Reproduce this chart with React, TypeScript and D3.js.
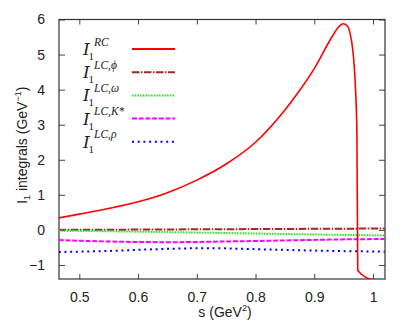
import React, { useEffect, useRef } from "react"
import * as d3 from "d3"

// red curve: I_1^RC
const rcS = [0.465, 0.5, 0.55, 0.6, 0.65, 0.7, 0.75, 0.8, 0.85, 0.87, 0.9, 0.93, 0.94, 0.949, 0.956, 0.961, 0.965, 0.9697, 0.9726, 0.974, 1.0]
const rcI = [0.34, 0.45, 0.61, 0.8, 1.06, 1.42, 1.88, 2.5, 3.42, 3.86, 4.6, 5.5, 5.76, 5.88, 5.82, 5.6, 5.2, 4.19, 2.77, -1.16, -1.43]

const phiS = [0.465, 0.75, 1.02]
const phiI = [0.0, 0.02, 0.04]

const omegaS = [0.465, 0.6, 0.75, 0.9, 1.02]
const omegaI = [-0.02, -0.05, -0.09, -0.13, -0.16]

const kstarS = [0.465, 0.55, 0.65, 0.75, 0.85, 0.95, 1.02]
const kstarI = [-0.29, -0.33, -0.35, -0.33, -0.3, -0.27, -0.26]

const rhoS = [0.465, 0.55, 0.65, 0.72, 0.8, 0.9, 1.02]
const rhoI = [-0.63, -0.6, -0.54, -0.52, -0.55, -0.59, -0.62]

const xTicks = [0.5, 0.6, 0.7, 0.8, 0.9, 1]
const yTicks = [-1, 0, 1, 2, 3, 4, 5, 6]

const legendSup = ["RC", "LC,\u03d5", "LC,\u03c9", "LC,K*", "LC,\u03c1"]

const W = 415
const H = 331
const margin = { top: 19.5, right: 30, bottom: 52, left: 59 }

const series = [
  { s: rcS, v: rcI, color: "#ff0000", dash: "none", width: 1.6 },
  { s: phiS, v: phiI, color: "#a0282a", dash: "7.5,1.5,1.5,1.5", width: 2 },
  { s: omegaS, v: omegaI, color: "#1ee81e", dash: "1.5,1.2", width: 2 },
  { s: kstarS, v: kstarI, color: "#ff00ff", dash: "5,1.7", width: 2 },
  { s: rhoS, v: rhoI, color: "#0000ff", dash: "2,3.7", width: 2 },
]

function Axis({ axis, transform }) {
  const ref = useRef(null)
  useEffect(() => {
    const g = d3.select(ref.current)
    g.call(axis)
    g.select(".domain").remove()
    g.selectAll("line").attr("stroke", "#444")
    g.selectAll("text")
      .attr("font-family", "'Liberation Sans', Arial, sans-serif")
      .attr("font-size", 14)
      .attr("fill", "#222")
  }, [axis])
  return <g ref={ref} transform={transform} />
}

export default function App() {
  const x = d3.scaleLinear().domain([0.4654, 1.0204]).range([margin.left, W - margin.right])
  const y = d3.scaleLinear().domain([-1.4, 6]).range([H - margin.bottom, margin.top])
  const x0 = margin.left
  const x1 = W - margin.right
  const y0 = H - margin.bottom
  const y1 = margin.top

  const line = d3
    .line()
    .x((d) => x(d[0]))
    .y((d) => y(d[1]))
    .curve(d3.curveMonotoneX)

  const fmt = (d) => (d === 1 ? "1" : d3.format(".1f")(d))

  const bottomAxis = d3.axisBottom(x).tickValues(xTicks).tickFormat(fmt).tickSizeInner(-5).tickSizeOuter(0).tickPadding(13)
  const topAxis = d3.axisTop(x).tickValues(xTicks).tickFormat(() => "").tickSizeInner(-5).tickSizeOuter(0)
  const leftAxis = d3.axisLeft(y).tickValues(yTicks).tickFormat(d3.format("d")).tickSizeInner(-6).tickSizeOuter(0).tickPadding(14)
  const rightAxis = d3.axisRight(y).tickValues(yTicks).tickFormat(() => "").tickSizeInner(-6).tickSizeOuter(0)

  const drawOrder = [1, 2, 3, 4, 0]
  const rowY = (i) => 49 + i * 23.2

  return (
    <div style={{ position: "fixed", left: 0, top: 0 }}>
      <svg width={W} height={H} style={{ display: "block", background: "#fff" }}>
        <defs>
          <clipPath id="plot">
            <rect x={x0} y={y1} width={x1 - x0} height={y0 - y1} />
          </clipPath>
        </defs>
        <Axis axis={bottomAxis} transform={`translate(0,${y0})`} />
        <Axis axis={topAxis} transform={`translate(0,${y1})`} />
        <Axis axis={leftAxis} transform={`translate(${x0},0)`} />
        <Axis axis={rightAxis} transform={`translate(${x1},0)`} />
        <rect x={x0} y={y1} width={x1 - x0} height={y0 - y1} fill="none" stroke="#333" strokeWidth={1.2} />

        <g clipPath="url(#plot)">
          {drawOrder.map((k) => {
            const sr = series[k]
            const pts = sr.s.map((s, i) => [s, sr.v[i]])
            return (
              <path
                key={k}
                d={line(pts)}
                fill="none"
                stroke={sr.color}
                strokeWidth={sr.width}
                strokeDasharray={sr.dash}
              />
            )
          })}
        </g>

        {/* legend */}
        {series.map((sr, i) => (
          <g key={i}>
            <text
              x={83}
              y={rowY(i) + 6}
              fontFamily="'DejaVu Serif', 'Liberation Serif', serif"
              fontStyle="italic"
              fontSize={17}
              fill="#222"
            >
              I
            </text>
            <text x={88.5} y={rowY(i) + 11} fontFamily="'Liberation Serif', serif" fontSize={11} fill="#222">
              1
            </text>
            <text
              x={94}
              y={rowY(i) - 3.5}
              fontFamily="'Liberation Serif', 'DejaVu Serif', serif"
              fontStyle="italic"
              fontSize={11.5}
              fill="#222"
            >
              {legendSup[i]}
            </text>
            <line
              x1={132}
              x2={175}
              y1={rowY(i)}
              y2={rowY(i)}
              stroke={sr.color}
              strokeWidth={2}
              strokeDasharray={sr.dash}
            />
          </g>
        ))}

        {/* axis titles */}
        <text
          transform={`translate(27,${(y0 + y1) / 2 - 4}) rotate(-90)`}
          textAnchor="middle"
          fontFamily="'Liberation Sans', Arial, sans-serif"
          fontSize={14}
          fill="#222"
        >
          I<tspan fontSize={9} dy={3}>1</tspan>
          <tspan dy={-3}> integrals (GeV</tspan>
          <tspan fontSize={9} dy={-6}>{"\u22121"}</tspan>
          <tspan dy={6}>)</tspan>
        </text>
        <text
          x={(x0 + x1) / 2 + 3}
          y={317}
          textAnchor="middle"
          fontFamily="'Liberation Sans', Arial, sans-serif"
          fontSize={14}
          fill="#222"
        >
          s (GeV<tspan fontSize={9} dy={-6}>2</tspan>
          <tspan dy={6}>)</tspan>
        </text>
      </svg>
    </div>
  )
}
